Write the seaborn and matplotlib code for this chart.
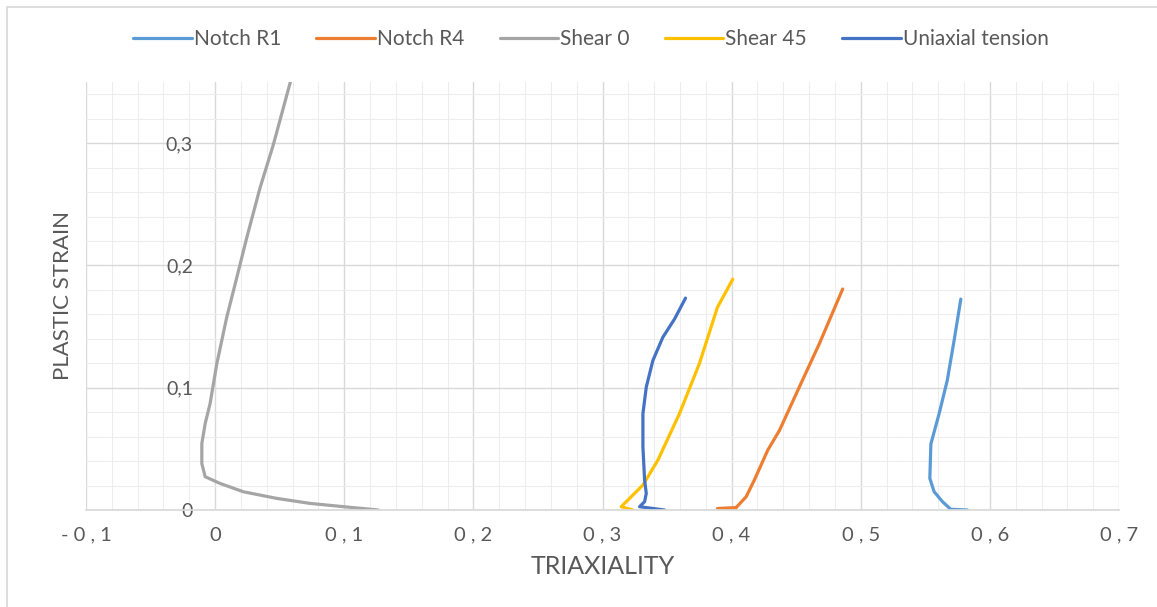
import matplotlib
matplotlib.use("Agg")
import matplotlib.pyplot as plt
import seaborn as sns
import pandas as pd
from matplotlib.ticker import MultipleLocator
from matplotlib.lines import Line2D

# Data (triaxiality, plastic strain)
notch_r1_x = [0.5826, 0.5697, 0.5633, 0.5568, 0.5535, 0.5543, 0.5607, 0.5670, 0.5723, 0.5775]
notch_r1_y = [0.0, 0.0006, 0.0068, 0.0150, 0.0258, 0.0540, 0.0788, 0.1060, 0.1386, 0.1725]

notch_r4_x = [0.4035, 0.3890, 0.4035, 0.4112, 0.4176, 0.4280, 0.4370, 0.4524, 0.4679, 0.4860]
notch_r4_y = [0.0, 0.0012, 0.0020, 0.0108, 0.0245, 0.0490, 0.0650, 0.1005, 0.1359, 0.1807]

shear0_x = [0.1263, 0.1044, 0.0735, 0.0477, 0.0219, 0.0039, -0.0077, -0.0103, -0.0103, -0.0077,
            -0.0039, 0.0013, 0.0090, 0.0168, 0.0245, 0.0348, 0.0451, 0.0580, 0.0600]
shear0_y = [0.0, 0.0022, 0.0054, 0.0095, 0.0149, 0.0217, 0.0272, 0.0380, 0.0543, 0.0707,
            0.0870, 0.1196, 0.1576, 0.1902, 0.2227, 0.2635, 0.2988, 0.3490, 0.3560]

shear45_x = [0.3235, 0.3145, 0.3313, 0.3429, 0.3596, 0.3750, 0.3890, 0.4009]
shear45_y = [0.0, 0.0027, 0.0204, 0.0408, 0.0788, 0.1196, 0.1657, 0.1888]

uniaxial_x = [0.3480, 0.3287, 0.3326, 0.3339, 0.3326, 0.3313, 0.3313, 0.3339, 0.3390, 0.3467, 0.3558, 0.3643]
uniaxial_y = [0.0, 0.0027, 0.0068, 0.0136, 0.0245, 0.0516, 0.0788, 0.1005, 0.1222, 0.1412, 0.1562, 0.1733]

series_names = ["Notch R1", "Notch R4", "Shear 0", "Shear 45", "Uniaxial tension"]
colors = ["#5B9BD5", "#ED7D31", "#A5A5A5", "#FFC000", "#4472C4"]
x_ticks = [-0.1, 0, 0.1, 0.2, 0.3, 0.4, 0.5, 0.6, 0.7]
x_tick_labels = ["- 0 , 1", "0", "0 , 1", "0 , 2", "0 , 3", "0 , 4", "0 , 5", "0 , 6", "0 , 7"]
y_ticks = [0, 0.1, 0.2, 0.3]
y_tick_labels = ["0", "0,1", "0,2", "0,3"]

rows = []
for name, xs, ys in zip(series_names,
                        [notch_r1_x, notch_r4_x, shear0_x, shear45_x, uniaxial_x],
                        [notch_r1_y, notch_r4_y, shear0_y, shear45_y, uniaxial_y]):
    for i, (x, y) in enumerate(zip(xs, ys)):
        rows.append({"series": name, "triax": x, "strain": y, "order": i})
df = pd.DataFrame(rows)

sns.set_theme(style="white")
plt.rcParams['font.family'] = ['Lato', 'DejaVu Sans']
text_color = "#595959"

fig = plt.figure(figsize=(11.57, 6.07), dpi=100)
ax = fig.add_axes([86 / 1157, 97 / 607, (1119 - 86) / 1157, (510 - 82) / 607])

sns.lineplot(data=df, x="triax", y="strain", hue="series", hue_order=series_names,
             palette=colors, sort=False, estimator=None, linewidth=2.3, ax=ax)

ax.set_xlim(-0.1, 0.7)
ax.set_ylim(0, 0.35)
ax.xaxis.set_major_locator(MultipleLocator(0.1))
ax.xaxis.set_minor_locator(MultipleLocator(0.02))
ax.yaxis.set_major_locator(MultipleLocator(0.1))
ax.yaxis.set_minor_locator(MultipleLocator(0.02))
ax.grid(which="major", color="#D9D9D9", linewidth=1.0)
ax.grid(which="minor", color="#EDEDED", linewidth=0.8)
ax.set_axisbelow(True)

ax.set_xticks(x_ticks)
ax.set_xticklabels(x_tick_labels)
ax.set_yticks(y_ticks)
ax.set_yticklabels(y_tick_labels)

for s in ["top", "right"]:
    ax.spines[s].set_visible(False)
ax.spines["bottom"].set_color("#D9D9D9")
ax.spines["left"].set_position(("data", 0))
ax.spines["left"].set_visible(False)
ax.tick_params(axis="x", length=0, pad=12, labelsize=14.5, labelcolor=text_color)
ax.tick_params(axis="y", length=0, pad=16, labelsize=14, labelcolor=text_color)

ax.set_xlabel("TRIAXIALITY", fontsize=18, color=text_color, labelpad=8)
ax.set_ylabel("PLASTIC STRAIN", fontsize=16, color=text_color)
ax.yaxis.set_label_coords(-13 / 1033, 0.5)

handles, labels = ax.get_legend_handles_labels()
ax.get_legend().remove()
fig.legend(handles, labels, loc="center", bbox_to_anchor=(591 / 1157, 1 - 39 / 607),
           ncol=5, frameon=False, fontsize=15, labelcolor=text_color,
           handlelength=2.8, handletextpad=0.1, columnspacing=1.7)

# chart border (left and top edges visible in the reference)
fig.add_artist(Line2D([7 / 1157, 7 / 1157], [0, 1 - 7 / 607], color="#D9D9D9", lw=1.2))
fig.add_artist(Line2D([7 / 1157, 1], [1 - 7 / 607, 1 - 7 / 607], color="#D9D9D9", lw=1.2))

fig.savefig("out.png", dpi=100)
